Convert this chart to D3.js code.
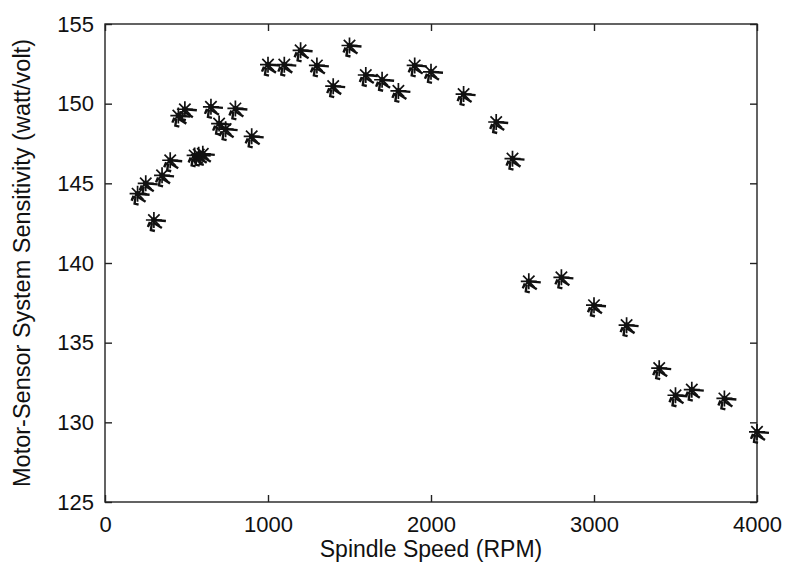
<!DOCTYPE html>
<html>
<head>
<meta charset="utf-8">
<script src="https://cdn.jsdelivr.net/npm/d3@7"></script>
<style>
  body { margin: 0; background: #fff; }
  text { font-family: "Liberation Sans", Arial, sans-serif; fill: #111; }
</style>
</head>
<body>
<svg id="chart" width="787" height="578"></svg>
<script>
// values
const speedRPM = [200, 250, 300, 350, 400, 450, 490, 550, 575, 600, 650, 700, 740, 800, 900,
  1000, 1100, 1200, 1300, 1400, 1500, 1600, 1700, 1800, 1900, 2000, 2200, 2400, 2500,
  2600, 2800, 3000, 3200, 3400, 3500, 3600, 3800, 4000];
const sensitivity = [144.35, 145.0, 142.7, 145.5, 146.45, 149.25, 149.65, 146.75, 146.8, 146.85, 149.8, 148.75, 148.4, 149.7, 147.95,
  152.45, 152.45, 153.35, 152.4, 151.1, 153.65, 151.8, 151.5, 150.8, 152.4, 152.0, 150.6, 148.85, 146.55,
  138.85, 139.1, 137.35, 136.1, 133.4, 131.7, 132.05, 131.5, 129.4];
const xTicks = [0, 1000, 2000, 3000, 4000];
const yTicks = [125, 130, 135, 140, 145, 150, 155];

const svg = d3.select('#chart');
const plotL = 105, plotR = 757, plotT = 24, plotB = 502;

const x = d3.scaleLinear().domain([0, 4000]).range([plotL, plotR]);
const y = d3.scaleLinear().domain([125, 155]).range([plotB, plotT]);

// box
svg.append('rect').attr('x', plotL).attr('y', plotT).attr('width', plotR - plotL).attr('height', plotB - plotT)
  .attr('fill', 'none').attr('stroke', '#222').attr('stroke-width', 1.4);

// axes with inward ticks, MATLAB style
svg.append('g').attr('transform', 'translate(0,' + plotB + ')')
  .call(d3.axisBottom(x).tickValues(xTicks).tickSize(-7).tickPadding(14).tickFormat(d3.format('d')))
  .call(g => g.select('.domain').remove());
svg.append('g').attr('transform', 'translate(0,' + plotT + ')')
  .call(d3.axisTop(x).tickValues(xTicks).tickSize(-7).tickFormat(''))
  .call(g => g.select('.domain').remove());
svg.append('g').attr('transform', 'translate(' + plotL + ',0)')
  .call(d3.axisLeft(y).tickValues(yTicks).tickSize(-7).tickPadding(11))
  .call(g => g.select('.domain').remove());
svg.append('g').attr('transform', 'translate(' + plotR + ',0)')
  .call(d3.axisRight(y).tickValues(yTicks).tickSize(-7).tickFormat(''))
  .call(g => g.select('.domain').remove());

svg.selectAll('.tick line').attr('stroke', '#222').attr('stroke-width', 1.4);
svg.selectAll('.tick text').style('font-size', '22px').attr('fill', '#111')
  .style('font-family', '"Liberation Sans", Arial, sans-serif');

// asterisk markers, with a smudged copy like the scan
const star = 'M-8,0L8,0M0,-8L0,8M-5.7,-5.7L5.7,5.7M-5.7,5.7L5.7,-5.7';
const smudge = 'M0,0L12,1M0,3L8,8M-2,3L-3,10L1,11M-4,2L-6,7';
const pts = svg.append('g').selectAll('g').data(speedRPM).join('g')
  .attr('transform', (d, i) => 'translate(' + x(d) + ',' + y(sensitivity[i]) + ')');
pts.append('path').attr('d', smudge).attr('stroke', '#111').attr('stroke-width', 2.4).attr('fill', 'none');
pts.append('path').attr('d', star).attr('stroke', '#111').attr('stroke-width', 1.7).attr('fill', 'none');
pts.append('circle').attr('r', 2.8).attr('fill', '#111');

// axis titles
svg.append('text').attr('x', (plotL + plotR) / 2).attr('y', 557).attr('text-anchor', 'middle')
  .style('font-size', '23px').text('Spindle Speed (RPM)');
svg.append('text').attr('transform', 'translate(30,' + (plotT + plotB) / 2 + ') rotate(-90)')
  .attr('text-anchor', 'middle').style('font-size', '23.5px')
  .text('Motor-Sensor System Sensitivity (watt/volt)');
</script>
</body>
</html>
